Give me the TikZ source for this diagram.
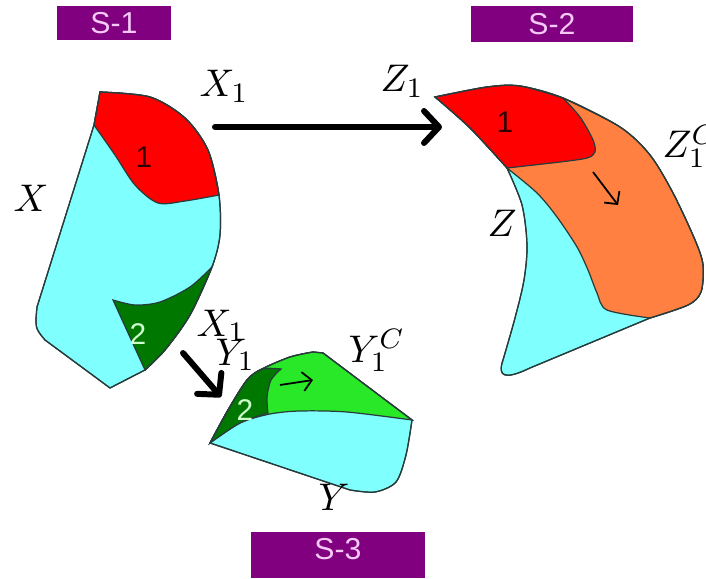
\documentclass[tikz,border=0pt]{standalone}
\usepackage{fontspec}
\setsansfont{Liberation Sans}
\usetikzlibrary{arrows.meta}
\definecolor{setcyan}{RGB}{128,255,255}
\definecolor{setred}{RGB}{255,0,0}
\definecolor{setorange}{RGB}{255,128,64}
\definecolor{setdkgreen}{RGB}{0,120,0}
\definecolor{setltgreen}{RGB}{40,232,40}
\definecolor{tagpurple}{RGB}{128,0,128}
\definecolor{tagtext}{RGB}{245,200,245}
\definecolor{edgegray}{RGB}{40,60,60}
\tikzset{
  tag/.style={fill=tagpurple, text=tagtext, font=\sffamily\fontsize{8.6}{9}\selectfont, inner sep=0pt},
  region/.style={draw=edgegray, line width=0.35pt},
  lbl/.style={font=\fontsize{11}{13}\selectfont, anchor=base west, inner sep=0pt},
  num/.style={font=\sffamily\fontsize{8.5}{9}\selectfont, inner sep=0pt},
  bigmap/.style={-{Straight Barb[round,length=1.5mm,width=3.2mm]}, line width=1.7pt, line cap=round},
  drift/.style={-{Straight Barb[length=0.9mm,width=1.9mm]}, line width=0.5pt},
}
\begin{document}
\begin{tikzpicture}[x=0.01cm, y=-0.01cm]
\useasboundingbox (0,0) rectangle (706,579);
\node[tag, minimum width=1.13cm, minimum height=0.34cm] (s1) at (114,23) {S-1};
\node[tag, minimum width=1.62cm, minimum height=0.35cm] (s2) at (552,24) {S-2};
\node[tag, minimum width=1.73cm, minimum height=0.45cm, text depth=0.12cm] (s3) at (338,555) {S-3};

\path[region, fill=setcyan] plot[smooth] coordinates {(100,92) (150,97) (185,118) (208,150) (219,195) (220,235) (212,267) (190,315) (165,350) (145,370)} -- (110,388) -- (45,340) .. controls (35,328) .. (37,307) -- (94,125) -- cycle;
\path[region, fill=setred] plot[smooth] coordinates {(100,92) (150,97) (185,118) (208,150) (219,195)} -- plot[smooth] coordinates {(219,195) (185,201) (158,203) (135,185) (115,155) (94,125)} -- cycle;
\path[region, fill=setdkgreen] plot[smooth] coordinates {(113,300) (135,305) (160,302) (190,287) (212,267)} -- plot[smooth] coordinates {(212,267) (190,315) (165,350) (145,370)} -- cycle;
\draw[region] plot[smooth] coordinates {(100,92) (150,97) (185,118) (208,150) (219,195) (220,235) (212,267) (190,315) (165,350) (145,370)} -- (110,388) -- (45,340) .. controls (35,328) .. (37,307) -- (94,125) -- cycle;
\node[num, text=black!80!red] (one1) at (144,157) {1};
\node[num, text=green!20!white] (two1) at (138,334) {2};

\path[region, fill=setcyan] plot[smooth] coordinates {(435,97) (487,87) (520,86) (563,98) (620,127) (650,155) (673,193) (695,240) (703,265) (701,292) (688,305) (650,318)} -- (530,368) .. controls (505,380) and (497,377) .. (503,360) -- plot[smooth] coordinates {(503,360) (515,318) (524,280) (527,245) (522,205) (507,168)} -- plot[smooth] coordinates {(507,168) (470,128) (435,97)} -- cycle;
\path[region, fill=setorange] plot[smooth] coordinates {(563,98) (620,127) (650,155) (673,193) (695,240) (703,265) (701,292) (688,305) (650,318)} -- plot[smooth] coordinates {(650,318) (607,310) (597,293) (588,270) (577,247) (557,217) (537,193) (507,168)} -- cycle;
\path[region, fill=setred] plot[smooth] coordinates {(435,97) (487,87) (520,86) (563,98)} -- plot[smooth] coordinates {(563,98) (580,117) (593,140) (595,152) (587,158) (560,162) (507,168)} -- plot[smooth] coordinates {(507,168) (470,128) (435,97)} -- cycle;
\draw[region] plot[smooth] coordinates {(435,97) (487,87) (520,86) (563,98) (620,127) (650,155) (673,193) (695,240) (703,265) (701,292) (688,305) (650,318)} -- (530,368) .. controls (505,380) and (497,377) .. (503,360) -- plot[smooth] coordinates {(503,360) (515,318) (524,280) (527,245) (522,205) (507,168)} -- plot[smooth] coordinates {(507,168) (470,128) (435,97)} -- cycle;
\node[num, text=black!80!red] (one2) at (505,122) {1};
\coordinate (za) at (593,172);
\coordinate (zb) at (618,205);
\draw[drift] (za) -- (zb);

\path[region, fill=setcyan] plot[smooth] coordinates {(210,443) (228,410) (247,380) (262,369) (290,357) (313,352)} -- (323,353) -- plot[smooth] coordinates {(412,420) (406,455) (396,482) (375,492) (350,490)} -- cycle;
\path[region, fill=setltgreen] plot[smooth] coordinates {(210,443) (228,410) (247,380) (262,369) (290,357) (313,352)} -- (323,353) -- (412,420) -- plot[smooth] coordinates {(412,420) (347,412) (300,411) (270,414) (240,423) (210,443)} -- cycle;
\path[region, fill=setdkgreen] plot[smooth] coordinates {(210,443) (228,410) (247,380) (262,369) (281,369)} -- plot[smooth] coordinates {(281,369) (271,380) (267,397) (268,413)} -- plot[smooth] coordinates {(268,413) (240,423) (210,443)} -- cycle;
\draw[region] plot[smooth] coordinates {(210,443) (228,410) (247,380) (262,369) (290,357) (313,352)} -- (323,353) -- plot[smooth] coordinates {(412,420) (406,455) (396,482) (375,492) (350,490)} -- cycle;
\node[num, text=green!20!white] (two3) at (245,410) {2};
\coordinate (ya) at (280,385);
\coordinate (yb) at (313,380);
\draw[drift] (ya) -- (yb);

\coordinate (xs) at (215,127);
\coordinate (zt) at (442,127);
\draw[bigmap] (xs) -- (zt);
\coordinate (xd) at (183,353);
\coordinate (yt) at (221,397);
\draw[bigmap] (xd) -- (yt);

\node[lbl] (xlab) at (13,212) {$X$};
\node[lbl] (x1top) at (199,97) {$X_1$};
\node[lbl] (z1) at (380,92) {$Z_1$};
\node[lbl] (z1c) at (662,158) {$Z_1^C$};
\node[lbl] (zlab) at (487,236) {$Z$};
\node[lbl] (x1low) at (196,336) {$X_1$};
\node[lbl] (y1) at (215,365) {$Y_1$};
\node[lbl] (y1c) at (348,362) {$Y_1^C$};
\node[lbl] (ylab) at (318,510) {$Y$};
\end{tikzpicture}
\end{document}
